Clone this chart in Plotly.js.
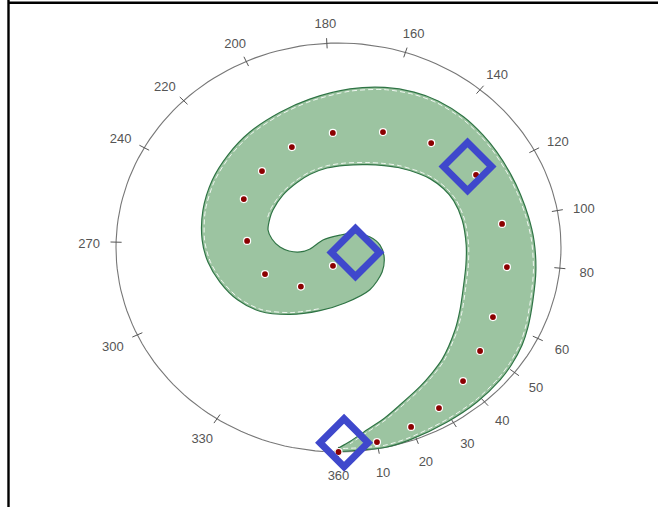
<!DOCTYPE html>
<html><head><meta charset="utf-8">
<script src="https://cdn.plot.ly/plotly-3.0.1.min.js"></script>
<style>html,body{margin:0;padding:0;background:#fff}#chart{width:658px;height:507px}</style>
</head><body><div id="chart"></div>
<script>
// angular axis: labels and the angles (degrees, 0 at bottom, counter-clockwise) where the picture draws them
const tickLabels = ["10","20","30","40","50","60","80","100","120","140","160","180","200","220","240","270","300","330","360"];
const tickAngle  = [10.3,20.5,31.1,41.0,52.3,63.6,84.2,100.4,118.4,140.5,162.5,183.0,204.5,224.1,240.8,268.5,295.3,326.9,0];

// red points (angle, radius)
const dotAngle  = [0,10.3,20.4,29.9,40.6,51.5,63.9,82.8,98.9,119.9,140.8,160.5,182.6,203.1,222.6,240.9,265.5,291.5,318.5,344.5];
const dotRadius = [1.0,0.967,0.936,0.906,0.860,0.813,0.773,0.763,0.744,0.713,0.659,0.599,0.561,0.534,0.508,0.487,0.412,0.355,0.255,0.093];

// highlighted points (blue diamonds)
const diaAngle  = [1.5,72.3,124.3];
const diaRadius = [0.955,0.080,0.702];

// band outline: outer edge (tip -> rounded end), then inner edge (rounded end -> tip)
const bandOuterAngle  = [359.1,5.6,12.0,18.8,29.8,39.5,48.3,53.6,60.0,65.5,73.6,82.9,92.4,99.9,107.5,114.7,123.3,130.3,138.7,148.0,155.9,165.1,176.2,190.1,201.8,215.2,227.7,239.9,253.3,266.5,276.9,287.6,299.4,311.4,326.2,344.8,6.1,34.3,58.5,78.4,93.7,109.8,133.8];
const bandOuterRadius = [0.995,0.995,1.0,0.994,0.983,0.979,0.973,0.966,0.953,0.936,0.911,0.894,0.879,0.867,0.858,0.853,0.851,0.851,0.851,0.845,0.832,0.810,0.777,0.737,0.711,0.691,0.672,0.656,0.636,0.614,0.591,0.559,0.521,0.471,0.394,0.320,0.273,0.250,0.230,0.209,0.187,0.151,0.103];
const bandInnerAngle  = [173.7,242.2,273.3,277.2,274.4,269.6,262.1,254.9,245.0,238.1,224.1,210.7,199.6,187.6,175.8,162.4,152.9,145.6,135.2,129.1,121.3,113.9,103.6,91.2,81.5,69.6,60.7,52.4,40.5,34.4,28.4,19.7,14.1,8.2,3.1];
const bandInnerRadius = [0.061,0.079,0.128,0.174,0.223,0.263,0.302,0.328,0.340,0.347,0.358,0.368,0.380,0.392,0.403,0.425,0.450,0.474,0.510,0.532,0.553,0.566,0.572,0.574,0.579,0.597,0.626,0.661,0.718,0.744,0.772,0.818,0.858,0.901,0.950];

const D = Math.PI/180;
const px = (a,r) => r*Math.sin(a*D);
const py = (a,r) => -r*Math.cos(a*D);

// outer circle (axis line)
const circA = []; for (let a=0;a<=360;a+=2) circA.push(a);
const circle = {x:circA.map(a=>px(a,1)), y:circA.map(a=>py(a,1)), mode:'lines',
  line:{color:'#777777', width:1.1}, hoverinfo:'skip', showlegend:false};

// tick marks
const tx=[], ty=[];
tickAngle.forEach(v=>{ tx.push(px(v,0.975),px(v,1.025),null); ty.push(py(v,0.975),py(v,1.025),null); });
const ticks = {x:tx, y:ty, mode:'lines', line:{color:'#555', width:1}, hoverinfo:'skip', showlegend:false};

// tick labels
const labels = {x:tickAngle.map(v=>Math.sin(v*D)*(1+27/222.5)), y:tickAngle.map(v=>-Math.cos(v*D)*(1+22/204.5)-3/204.5),
  text:tickLabels, mode:'text', textposition:'middle center',
  textfont:{family:'Liberation Sans, Arial, sans-serif', size:13, color:'#555'}, hoverinfo:'skip', showlegend:false};

// band
const bA = bandOuterAngle.concat(bandInnerAngle), bR = bandOuterRadius.concat(bandInnerRadius);
const bx = bA.map((a,i)=>px(a,bR[i])), by = bA.map((a,i)=>py(a,bR[i]));
bx.push(bx[0]); by.push(by[0]);
const band = {x:bx, y:by, mode:'lines', fill:'toself', fillcolor:'#9cc4a1',
  line:{color:'#2f7445', width:1.2, shape:'spline', smoothing:0.8}, hoverinfo:'skip', showlegend:false};

// thin white dashed rim just inside the band edges
const nOut = 36, innerStart = 8;
const rimOut = {x:bandOuterAngle.slice(0,nOut).map((a,i)=>px(a,bandOuterRadius[i]-0.011)),
  y:bandOuterAngle.slice(0,nOut).map((a,i)=>py(a,bandOuterRadius[i]-0.011)), mode:'lines',
  line:{color:'rgba(255,255,255,0.85)', width:1, dash:'5px,3px', shape:'spline', smoothing:0.8}, hoverinfo:'skip', showlegend:false};
const rimIn = {x:bandInnerAngle.slice(innerStart).map((a,i)=>px(a,bandInnerRadius[i+innerStart]+0.011)),
  y:bandInnerAngle.slice(innerStart).map((a,i)=>py(a,bandInnerRadius[i+innerStart]+0.011)), mode:'lines',
  line:{color:'rgba(255,255,255,0.85)', width:1, dash:'5px,3px', shape:'spline', smoothing:0.8}, hoverinfo:'skip', showlegend:false};

const dots = {x:dotAngle.map((a,i)=>px(a,dotRadius[i])), y:dotAngle.map((a,i)=>py(a,dotRadius[i])),
  mode:'markers', marker:{color:'#8b0000', size:7, line:{color:'#ffffff', width:1.2}}, hoverinfo:'skip', showlegend:false};

const dias = {x:diaAngle.map((a,i)=>px(a,diaRadius[i])), y:diaAngle.map((a,i)=>py(a,diaRadius[i])),
  mode:'markers', marker:{symbol:'diamond-open', color:'#3f48cc', size:37, line:{color:'#3f48cc', width:7}},
  hoverinfo:'skip', showlegend:false};

const layout = {
  width:658, height:507, margin:{l:0,r:0,t:0,b:0},
  paper_bgcolor:'#ffffff', plot_bgcolor:'#ffffff', showlegend:false,
  xaxis:{range:[-338.5/222.5,(658-338.5)/222.5], visible:false, fixedrange:true},
  yaxis:{range:[-(507-247.5)/204.5, 247.5/204.5], visible:false, fixedrange:true},
  shapes:[
    {type:'line', xref:'paper', yref:'paper', x0:8/658, x1:1, y0:1-2.8/507, y1:1-2.8/507, line:{color:'#000', width:2.6}},
    {type:'line', xref:'paper', yref:'paper', x0:8.5/658, x1:8.5/658, y0:0, y1:1, line:{color:'#000', width:2.4}}
  ]
};
Plotly.newPlot('chart', [circle, ticks, band, rimOut, rimIn, labels, dots, dias], layout, {staticPlot:true, displayModeBar:false});
</script></body></html>
